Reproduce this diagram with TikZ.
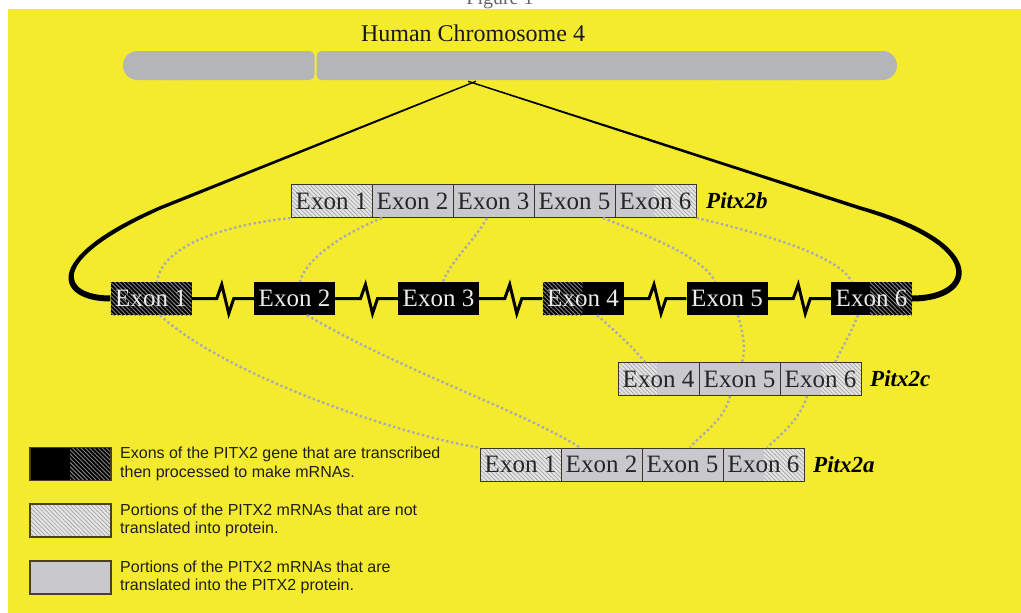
\documentclass[tikz,border=0pt]{standalone}
\usepackage{fontspec}
\setmainfont{Liberation Serif}
\newfontfamily\legfont{Liberation Sans}
\usetikzlibrary{patterns.meta,calc}
\definecolor{bgyellow}{HTML}{F4EB2F}
\definecolor{chromgray}{HTML}{B3B5B7}
\definecolor{boxgray}{HTML}{C9C9CD}
\definecolor{hatchbase}{HTML}{E4E4E4}
\definecolor{hatchline}{HTML}{A6A6A6}
\definecolor{darkhatch}{HTML}{858585}
\definecolor{boxline}{HTML}{3A3528}
\definecolor{legline}{HTML}{4B4023}
\definecolor{dotgray}{HTML}{ABABB0}
\tikzset{
  exontext/.style={font=\fontsize{25}{27}\selectfont},
  gexon/.style={rectangle, fill=black, minimum width=81pt, minimum height=33pt, inner sep=0pt, text=white!92!black, exontext},
  mexon/.style={rectangle, fill=boxgray, draw=boxline, line width=1pt, minimum width=81pt, minimum height=33pt, inner sep=0pt, text=black!85, exontext},
  lhatch/.style={fill=hatchbase, postaction={pattern={Lines[angle=-45,distance=3pt,line width=0.7pt]}, pattern color=hatchline}},
  dhatch/.style={fill=black, postaction={pattern={Lines[angle=-45,distance=3pt,line width=0.9pt]}, pattern color=darkhatch}},
  hatchleft/.style={path picture={\path[lhatch] (path picture bounding box.north west) rectangle ([xshift=#1]path picture bounding box.south west);}},
  hatchright/.style={path picture={\path[lhatch] (path picture bounding box.north east) rectangle ([xshift=-#1]path picture bounding box.south east);}},
  dhatchleft/.style={path picture={\path[dhatch] (path picture bounding box.north west) rectangle ([xshift=#1]path picture bounding box.south west);}},
  dhatchright/.style={path picture={\path[dhatch] (path picture bounding box.north east) rectangle ([xshift=-#1]path picture bounding box.south east);}},
  isoname/.style={anchor=west, font=\fontsize{23}{25}\selectfont\bfseries\itshape, inner sep=0pt},
  backbone/.style={line width=3pt, line join=miter},
  splice/.style={draw=dotgray, line width=2.4pt, dash pattern=on 2.4pt off 2.6pt},
  legbox/.style={rectangle, draw=legline, line width=1.8pt, minimum width=81pt, minimum height=33pt, inner sep=0pt},
  legtext/.style={anchor=west, align=left, inner sep=0pt, text=black!88, font=\legfont\fontsize{16}{18.5}\selectfont},
}
\begin{document}
\begin{tikzpicture}[x=1pt,y=-1pt]
\useasboundingbox (0,0) rectangle (1021,613);
\fill[white] (0,0) rectangle (1021,613);
\node[font=\fontsize{20}{22}\selectfont, text=black!60, anchor=base] (fig) at (500,5) {Figure 1};
\fill[bgyellow] (8,9) rectangle (1021,613);

% chromosome
\node[font=\fontsize{24}{26}\selectfont, text=black!90] (title) at (473,33) {Human Chromosome 4};
\fill[chromgray, rounded corners=14.5] (123,51) rectangle (200,80);
\fill[chromgray, rounded corners=5] (160,51) rectangle (314.5,80);
\fill[chromgray, rounded corners=5] (316.5,51) rectangle (800,80);
\fill[chromgray, rounded corners=14.5] (700,51) rectangle (897,80);

% genomic exons
\node[gexon, dhatchleft=81pt] (g1) at (151,298.5) {Exon 1};
\node[gexon] (g2) at (294.5,298.5) {Exon 2};
\node[gexon] (g3) at (438.5,298.5) {Exon 3};
\node[gexon, dhatchleft=40pt] (g4) at (583,298.5) {Exon 4};
\node[gexon] (g5) at (727,298.5) {Exon 5};
\node[gexon, dhatchright=42pt] (g6) at (871.5,298.5) {Exon 6};

% backbone with breaks
\foreach \a/\b in {g1/g2,g2/g3,g3/g4,g4/g5,g5/g6}{
  \draw[backbone] (\a.east) -- ($(\a.east)!0.5!(\b.west)+(-6,0)$) -- ++(5,-14) -- ++(7,29) -- ++(5,-15) -- (\b.west);
}

% thick loops from chromosome
\fill (476,80.6) -- (159.4,206.4) .. controls (37,259) and (57,301.5) .. (g1.west |- 0,301.5)
  -- (g1.west |- 0,295.5) .. controls (63,295.5) and (45,262) .. (160.6,209.6) -- (476,82) -- cycle;
\fill (468,80.6) -- (860.5,206.3) .. controls (994,243) and (978,301.5) .. (g6.east |- 0,301.5)
  -- (g6.east |- 0,295.5) .. controls (972,295.5) and (985,247) .. (859.5,209.7) -- (468,82) -- cycle;

% Pitx2b
\node[mexon, hatchleft=81pt] (b1) at (331.5,201) {Exon 1};
\node[mexon] (b2) at (412.5,201) {Exon 2};
\node[mexon] (b3) at (493.5,201) {Exon 3};
\node[mexon] (b5) at (574.5,201) {Exon 5};
\node[mexon, hatchright=42pt] (b6) at (655.5,201) {Exon 6};
\node[isoname] (nb) at (706,201) {Pitx2b};

% Pitx2c
\node[mexon, hatchleft=39pt] (c4) at (658.5,379) {Exon 4};
\node[mexon] (c5) at (739.5,379) {Exon 5};
\node[mexon, hatchright=40pt] (c6) at (820.5,379) {Exon 6};
\node[isoname] (nc) at (870,379) {Pitx2c};

% Pitx2a
\node[mexon, hatchleft=81pt] (a1) at (520.5,464.5) {Exon 1};
\node[mexon] (a2) at (601.5,464.5) {Exon 2};
\node[mexon] (a5) at (682.5,464.5) {Exon 5};
\node[mexon, hatchright=40pt] (a6) at (763.5,464.5) {Exon 6};
\node[isoname] (na) at (813,464.5) {Pitx2a};

% splice connectors
\draw[splice] (b1.south west) .. controls (200,228) and (160,255) .. (g1.north -| 157,0);
\draw[splice] (b2.south west -| 382,0) .. controls (340,235) and (305,260) .. (g2.north -| 300,0);
\draw[splice] (b3.south -| 487,0) .. controls (475,240) and (450,262) .. (g3.north -| 443,0);
\draw[splice] (b5.south -| 603,0) .. controls (660,240) and (705,260) .. (g5.north -| 715,0);
\draw[splice] (b6.south east) .. controls (790,240) and (840,260) .. (g6.north -| 852,0);
\draw[splice] (g1.south -| 160,0) .. controls (230,380) and (420,440) .. (a1.north west);
\draw[splice] (g2.south -| 307,0) .. controls (400,370) and (520,410) .. (a2.north -| 580,0);
\draw[splice] (g4.south -| 597,0) .. controls (620,335) and (635,350) .. (c4.north -| 645,0);
\draw[splice] (g5.south -| 738,0) .. controls (745,340) and (745,352) .. (c5.north -| 742,0);
\draw[splice] (c5.south -| 730,0) .. controls (725,420) and (700,435) .. (a5.north -| 690,0);
\draw[splice] (g6.south -| 858,0) .. controls (850,335) and (840,352) .. (c6.north -| 835,0);
\draw[splice] (c6.south -| 807,0) .. controls (800,420) and (780,435) .. (a6.north -| 767,0);

% legend
\node[legbox, fill=black, dhatchright=41pt] (l1) at (70.5,464) {};
\node[legtext] (t1) at (120,464) {Exons of the PITX2 gene that are transcribed\\then processed to make mRNAs.};
\node[legbox, hatchleft=81pt] (l2) at (70.5,520.5) {};
\node[legtext] (t2) at (120,520.5) {Portions of the PITX2 mRNAs that are not\\translated into protein.};
\node[legbox, fill=boxgray] (l3) at (70.5,577.5) {};
\node[legtext] (t3) at (120,577.5) {Portions of the PITX2 mRNAs that are\\translated into the PITX2 protein.};
\end{tikzpicture}
\end{document}
